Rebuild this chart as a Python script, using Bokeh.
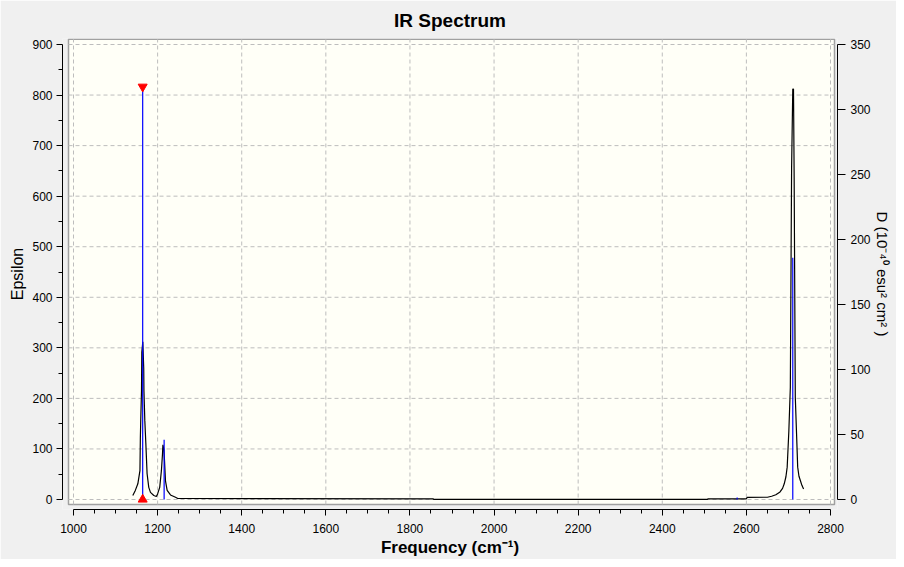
from bokeh.plotting import figure
from bokeh.models import Range1d, LinearAxis, FixedTicker
from bokeh.embed import file_html
from bokeh.resources import INLINE

# ---------------- data ----------------
curve_freq = [1141, 1147, 1153, 1158, 1159, 1160, 1161.7, 1162.4, 1164.8, 1167, 1167.5,
              1169.6, 1172, 1175, 1179, 1183, 1191, 1197, 1200, 1205, 1209, 1211.6,
              1212.6, 1214.8, 1216.4, 1218.7, 1222.7, 1230.6, 1242.5, 1248,
              1855, 1857, 2507, 2509, 2600, 2602, 2650, 2660, 2670, 2680, 2686, 2690,
              2694, 2697, 2701, 2704.5, 2707.5, 2710.3, 2712.0, 2713.6, 2716.3, 2719,
              2722, 2725, 2728.5, 2732, 2736]
curve_eps = [8, 18, 31, 57, 123, 160, 215, 291, 312, 259, 215,
             156, 111, 51, 24, 14, 8, 6, 11, 24, 57, 90,
             108, 100, 77, 37, 18, 9, 4.5, 2,
             1.4, 0.2, 0.2, 1.4, 1.4, 4.2, 4.5, 6.5, 9.5, 15, 22, 31,
             45, 64, 136, 222, 655, 812, 812, 635, 202, 137,
             64, 46, 37, 28, 21]

stick_freq = [1164.5, 1215.5, 2578, 2710.3]
stick_D = [317.5, 46.0, 1.5, 186.0]

selected_freq = [1164.5]
selected_D = [317.5]

x_ticks = [1000, 1200, 1400, 1600, 1800, 2000, 2200, 2400, 2600, 2800]
x_minor = [1050, 1100, 1150, 1250, 1300, 1350, 1450, 1500, 1550, 1650, 1700, 1750,
           1850, 1900, 1950, 2050, 2100, 2150, 2250, 2300, 2350, 2450, 2500, 2550,
           2650, 2700, 2750]
eps_ticks = [0, 100, 200, 300, 400, 500, 600, 700, 800, 900]
eps_minor = [50, 150, 250, 350, 450, 550, 650, 750, 850]
D_ticks = [0, 50, 100, 150, 200, 250, 300, 350]

title_text = "IR Spectrum"
x_label = "Frequency (cm\u207b\u00b9)"
y_label = "Epsilon"
y2_label = "D (10\u207b\u2074\u2070 esu\u00b2 cm\u00b2 )"

EPS_MAX = 900
D_MAX = 350

# ---------------- layout ----------------
W, H = 896, 559
BL, BT = 62, 38
BR = W - 837
BB = H - 509
frame_w = W - BL - BR
frame_h = H - BT - BB

kx = 757 / (x_ticks[-1] - x_ticks[0])      # px per cm-1
ky = 455 / EPS_MAX                          # px per epsilon unit
x_start = x_ticks[0] - 11 / kx
x_end = x_start + frame_w / kx
y_end = EPS_MAX + 6 / ky
y_start = y_end - frame_h / ky

box_left = x_ticks[0] - 5 / kx
box_right = x_ticks[-1] + 4 / kx
box_top = y_end - 0.8 / ky
box_bottom = 0 - 5 / ky

FONT = "Liberation Sans"

p = figure(width=W, height=H, output_backend="svg", toolbar_location=None,
           x_range=Range1d(x_start, x_end), y_range=Range1d(y_start, y_end),
           min_border_left=BL, min_border_right=BR, min_border_top=BT,
           min_border_bottom=BB, title=title_text)
p.extra_y_ranges = {"D": Range1d(y_start * D_MAX / EPS_MAX, y_end * D_MAX / EPS_MAX)}

p.background_fill_color = "#F0F0F0"
p.border_fill_color = "#F0F0F0"
p.outline_line_color = None
p.xgrid.visible = False
p.ygrid.visible = False

p.title.align = "center"
p.title.text_font = FONT
p.title.text_font_size = "19px"
p.title.text_font_style = "bold"
p.title.text_color = "#000000"
p.title.standoff = 15

# plot box
p.quad(left=[box_left], right=[box_right], top=[box_top], bottom=[box_bottom],
       fill_color="#FFFFF7", line_color="#A0A0A0", line_width=1.5)

# grid lines
p.segment(x0=x_ticks, y0=[box_bottom] * len(x_ticks), x1=x_ticks, y1=[box_top] * len(x_ticks),
          line_color="#BDBDBD", line_width=1, line_dash="4 3")
p.segment(x0=[box_left] * len(eps_ticks), y0=eps_ticks, x1=[box_right] * len(eps_ticks), y1=eps_ticks,
          line_color="#BDBDBD", line_width=1, line_dash="4 3")

# spectrum
p.line(curve_freq, curve_eps, line_color="#000000", line_width=1.2)
p.segment(x0=stick_freq, y0=[0] * len(stick_freq), x1=stick_freq, y1=stick_D,
          line_color="#0000FF", line_width=1.2, y_range_name="D")
p.scatter(selected_freq, selected_D, marker="inverted_triangle", size=9,
          fill_color="#FF0000", line_color="#FF0000", y_range_name="D")
p.scatter(selected_freq, [0] * len(selected_freq), marker="triangle", size=9,
          fill_color="#FF0000", line_color="#FF0000", y_range_name="D")


def style_axis(ax, tick_out, minor_out, standoff):
    ax.axis_line_color = "#000000"
    ax.axis_line_width = 1
    ax.major_tick_line_color = "#000000"
    ax.minor_tick_line_color = "#000000"
    ax.major_tick_in = 0
    ax.major_tick_out = tick_out
    ax.minor_tick_in = 0
    ax.minor_tick_out = minor_out
    ax.major_label_text_font = FONT
    ax.major_label_text_font_size = "12px"
    ax.major_label_text_color = "#000000"
    ax.major_label_standoff = standoff
    ax.axis_label_text_font = FONT
    ax.axis_label_text_color = "#000000"
    ax.axis_label_text_font_style = "normal"


xa = p.xaxis[0]
xa.ticker = FixedTicker(ticks=x_ticks, minor_ticks=x_minor)
xa.bounds = (x_ticks[0], x_ticks[-1])
style_axis(xa, 6, 4, 8)
xa.axis_label = x_label
xa.axis_label_text_font_size = "17px"
xa.axis_label_text_font_style = "bold"
xa.axis_label_standoff = 2

ya = p.yaxis[0]
ya.ticker = FixedTicker(ticks=eps_ticks, minor_ticks=eps_minor)
ya.bounds = (0, EPS_MAX)
style_axis(ya, 6, 4, 4)
ya.axis_label = y_label
ya.axis_label_text_font_size = "16px"
ya.axis_label_standoff = 3

ra = LinearAxis(y_range_name="D", ticker=FixedTicker(ticks=D_ticks, minor_ticks=[]),
                bounds=(0, D_MAX))
style_axis(ra, 8, 0, 5)
ra.axis_label = y2_label
ra.axis_label_text_font_size = "15px"
ra.axis_label_standoff = 0
p.add_layout(ra, "right")

open("out.html", "w").write(file_html(p, INLINE))
